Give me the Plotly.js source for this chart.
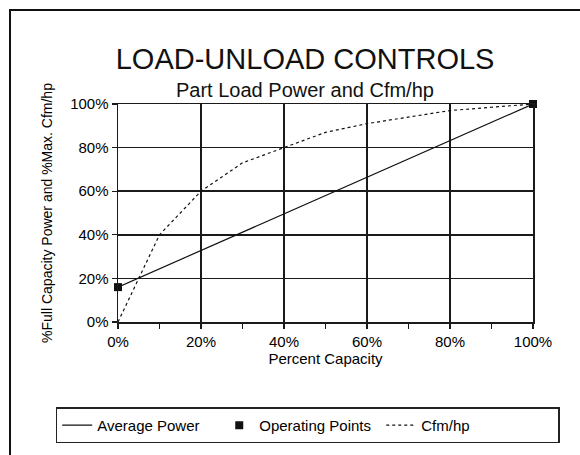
<!DOCTYPE html>
<html>
<head>
<meta charset="utf-8">
<script src="https://cdn.plot.ly/plotly-3.0.1.min.js"></script>
<style>
html,body{margin:0;padding:0;background:#fff;}
#chart{width:580px;height:455px;}
</style>
</head>
<body>
<div id="chart"></div>
<script>
// Data
const powerCapacity = [0, 100];
const averagePower = [16, 100];
const operatingCapacity = [0, 100];
const operatingPower = [16, 100];
const cfmCapacity = [0, 10, 20, 30, 40, 50, 60, 70, 80, 90, 100];
const cfmPerHp = [0, 40, 60, 73, 80, 87, 91, 94, 97, 98.5, 100];
const tickValues = [0, 20, 40, 60, 80, 100];
const tickLabels = ['0%', '20%', '40%', '60%', '80%', '100%'];

const FONT = 'Liberation Sans, Arial, sans-serif';

const traces = [
  {
    x: powerCapacity, y: averagePower, name: 'Average Power',
    type: 'scatter', mode: 'lines',
    line: {color: '#111', width: 1.2}
  },
  {
    x: operatingCapacity, y: operatingPower, name: 'Operating Points',
    type: 'scatter', mode: 'markers',
    marker: {symbol: 'square', size: 8, color: '#111'},
    cliponaxis: false
  },
  {
    x: cfmCapacity, y: cfmPerHp, name: 'Cfm/hp',
    type: 'scatter', mode: 'lines',
    line: {color: '#111', width: 1.2, dash: 'dot'},
    legendwidth: 132
  }
];

const axisCommon = {
  showgrid: true, gridcolor: '#1a1a1a', gridwidth: 1.5,
  showline: true, linecolor: '#1a1a1a', linewidth: 1.5, mirror: true,
  zeroline: false,
  ticks: 'outside', ticklen: 5, tickwidth: 1.2, tickcolor: '#1a1a1a',
  tickfont: {family: FONT, size: 15, color: '#000'},
  tickvals: tickValues, ticktext: tickLabels,
  range: [0, 100], fixedrange: true
};

const layout = {
  width: 580, height: 455,
  margin: {l: 118, r: 47, t: 104, b: 133},
  paper_bgcolor: '#fff', plot_bgcolor: '#fff',
  font: {family: FONT, color: '#000'},
  showlegend: true,
  title: {
    text: 'LOAD-UNLOAD CONTROLS',
    font: {family: FONT, size: 29, color: '#111'},
    xref: 'container', x: 0.526, xanchor: 'center',
    yref: 'container', y: 0.870, yanchor: 'middle'
  },
  annotations: [{
    text: 'Part Load Power and Cfm/hp',
    xref: 'paper', yref: 'paper', x: 0.45, y: 1.064,
    xanchor: 'center', yanchor: 'middle', showarrow: false,
    font: {family: FONT, size: 20, color: '#111'}
  }],
  xaxis: Object.assign({}, axisCommon, {
    title: {text: 'Percent Capacity', font: {family: FONT, size: 15, color: '#000'}, standoff: 5},
    minor: {dtick: 10, ticks: 'outside', ticklen: 5, tickwidth: 1.2, tickcolor: '#1a1a1a', showgrid: false}
  }),
  yaxis: Object.assign({}, axisCommon, {
    title: {text: '%Full Capacity Power and %Max. Cfm/hp', font: {family: FONT, size: 14, color: '#000'}, standoff: 14}
  }),
  legend: {
    orientation: 'h',
    x: -0.150, xanchor: 'left',
    y: -0.392, yanchor: 'top',
    bordercolor: '#222', borderwidth: 1.5, bgcolor: '#fff',
    font: {family: FONT, size: 15, color: '#000'},
    entrywidth: 117, entrywidthmode: 'pixels'
  },
  shapes: [{
    type: 'path', xref: 'paper', yref: 'paper',
    path: 'M -0.2602 -0.62 L -0.2602 1.431 L 1.12 1.431',
    line: {color: '#111', width: 2}
  }]
};

Plotly.newPlot('chart', traces, layout, {displayModeBar: false, staticPlot: true});
</script>
</body>
</html>
